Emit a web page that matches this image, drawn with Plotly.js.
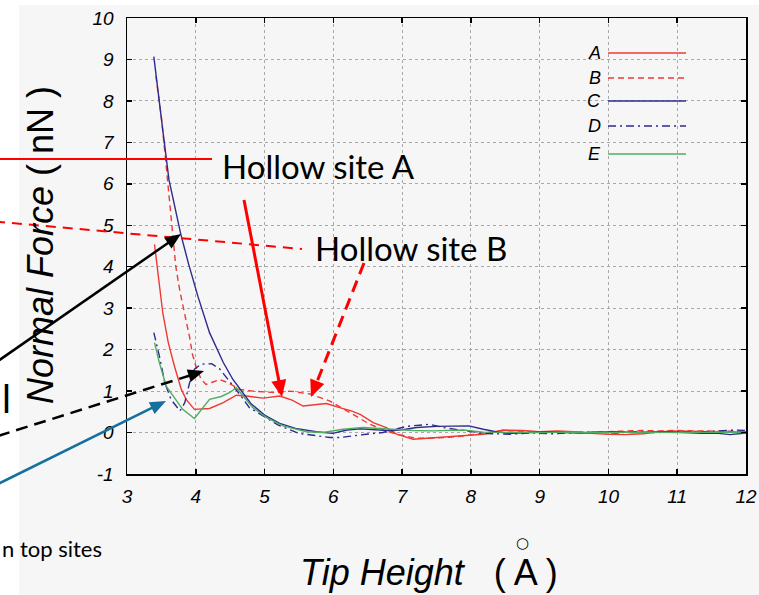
<!DOCTYPE html>
<html><head><meta charset="utf-8">
<script src="https://cdn.plot.ly/plotly-3.0.1.min.js"></script>
<style>html,body{margin:0;padding:0;background:#fff}#chart{width:759px;height:595px}</style>
</head><body><div id="chart"></div>
<script>
// ---- data ----
const seriesNames = ['A','B','C','D','E'];
const xA = [3.4,3.47,3.52,3.6,3.69,3.79,3.86,3.98,4.2,4.4,4.59,4.74,4.98,5.22,5.4,5.56,5.75,5.9,6.09,6.25,6.39,6.58,6.77,6.92,7.16,7.5,7.89,8.18,8.47,8.75,9.0,9.25,9.5,9.75,10.0,10.25,10.5,10.75,11.0,11.25,11.5,11.75,12.0];
const yA = [4.54,3.6,2.89,2.17,1.6,1.04,0.8,0.56,0.58,0.72,0.9,0.88,0.83,0.88,0.78,0.64,0.67,0.7,0.6,0.53,0.44,0.24,0.12,-0.04,-0.16,-0.12,-0.08,-0.04,0.06,0.05,0.02,0.04,0.02,-0.02,-0.04,-0.05,-0.03,0.02,0.04,0.03,0.03,0.01,0.02];
const xB = [3.42,3.5,3.56,3.6,3.66,3.71,3.77,3.86,3.91,3.95,4.01,4.08,4.15,4.25,4.35,4.47,4.64,4.83,5.0,5.17,5.37,5.66,5.95,6.24,6.53,6.75,6.92,7.21,7.5,7.79,8.08,8.47,8.75,9.0,9.25,9.5,9.75,10.0,10.25,10.5,10.75,11.0,11.25,11.5,11.75,12.0];
const yB = [8.6,7.6,6.6,5.9,4.7,4.0,3.4,2.7,2.3,1.9,1.55,1.28,1.16,1.22,1.28,1.2,1.04,1.0,0.98,0.96,1.0,0.93,0.76,0.48,0.2,0.05,-0.04,-0.14,-0.13,-0.1,-0.04,0.05,0.03,0.01,0.02,0.0,0.01,0.02,0.03,0.05,0.04,0.05,0.04,0.03,0.03,0.03];
const xC = [3.39,3.45,3.52,3.61,3.7,3.78,3.89,4.03,4.2,4.4,4.54,4.66,4.8,5.0,5.22,5.45,5.75,5.99,6.2,6.39,6.6,6.85,7.05,7.21,7.5,7.75,7.97,8.18,8.4,8.6,8.85,9.1,9.35,9.6,9.85,10.1,10.35,10.6,10.85,11.1,11.35,11.6,11.77,12.0];
const yC = [9.07,8.2,7.3,6.1,5.45,4.8,4.1,3.29,2.41,1.69,1.28,1.0,0.7,0.42,0.22,0.1,0.02,-0.02,0.06,0.09,0.06,0.04,0.08,0.12,0.15,0.16,0.16,0.08,0.01,-0.02,0.0,0.02,0.0,-0.01,0.01,0.02,0.0,0.01,0.02,0.0,-0.02,-0.02,-0.05,-0.01];
const xD = [3.39,3.47,3.55,3.64,3.77,3.84,3.91,3.98,4.08,4.23,4.35,4.49,4.64,4.78,4.98,5.2,5.5,5.75,5.95,6.09,6.34,6.48,6.72,6.85,7.07,7.4,7.6,7.94,8.18,8.57,8.9,9.2,9.5,9.8,10.1,10.4,10.7,11.0,11.3,11.6,11.85,12.0];
const yD = [2.41,1.85,1.2,0.8,0.52,0.72,1.2,1.53,1.65,1.66,1.53,1.24,0.92,0.6,0.4,0.18,-0.02,-0.08,-0.12,-0.12,-0.08,-0.04,0.0,0.05,0.15,0.2,0.12,0.04,-0.02,-0.04,-0.01,-0.03,0.0,0.01,-0.01,0.02,0.0,0.02,0.01,0.04,0.06,0.05];
const xE = [3.4,3.47,3.57,3.67,3.81,3.98,4.2,4.37,4.49,4.59,4.71,4.83,5.03,5.27,5.41,5.61,5.85,6.14,6.43,6.63,6.82,7.16,7.45,7.89,8.18,8.5,9.0,9.5,10.0,10.5,11.0,11.5,12.0];
const yE = [2.17,1.69,1.12,0.88,0.56,0.34,0.8,0.87,0.96,1.08,0.84,0.6,0.36,0.16,0.1,0.02,0.0,0.08,0.12,0.1,0.08,0.05,0.04,0.06,0.01,0.0,0.0,0.01,0.0,0.01,0.0,0.01,0.0];
const xTicks = [3,4,5,6,7,8,9,10,11,12];
const yTicks = [-1,0,1,2,3,4,5,6,7,8,9,10];

// ---- styles ----
const RED='#ee3a33', NAVY='#2d2b8e', GREEN='#4fad62';
const styles = {
  A:{color:RED,dash:'solid'},
  B:{color:RED,dash:'6px,4px'},
  C:{color:NAVY,dash:'solid'},
  D:{color:NAVY,dash:'8px,4px,2px,4px'},
  E:{color:GREEN,dash:'solid'}
};
const xs={A:xA,B:xB,C:xC,D:xD,E:xE}, ys={A:yA,B:yB,C:yC,D:yD,E:yE};
const traces = seriesNames.map(n=>({x:xs[n],y:ys[n],type:'scatter',mode:'lines',name:n,
  line:{color:styles[n].color,dash:styles[n].dash,width:1.4},showlegend:false,hoverinfo:'skip'}));

// ---- geometry helpers (pixel -> paper) ----
const W=759,H=595,L=127,R=13,T=18,B=121;
const pw=W-L-R, ph=H-T-B;
const px=x=>(x-L)/pw, py=y=>(H-B-y)/ph;

const shapes=[], annotations=[];
// slide background
shapes.push({type:'rect',xref:'paper',yref:'paper',x0:px(19),x1:px(770),y0:py(5),y1:py(600),fillcolor:'#f6f6f6',line:{width:0},layer:'below'});

function arrow(sx,sy,tx,ty,color,width,dash,hl,hw){
  const dx=tx-sx, dy=ty-sy, len=Math.hypot(dx,dy), ux=dx/len, uy=dy/len;
  const bx=tx-ux*hl, by=ty-uy*hl, nx=-uy, ny=ux;
  shapes.push({type:'line',xref:'paper',yref:'paper',x0:px(sx),y0:py(sy),x1:px(bx+ux*2),y1:py(by+uy*2),line:{color:color,width:width,dash:dash},layer:'above'});
  const p2=[bx+nx*hw/2,by+ny*hw/2], p3=[bx-nx*hw/2,by-ny*hw/2];
  shapes.push({type:'path',xref:'paper',yref:'paper',
    path:`M ${px(tx)} ${py(ty)} L ${px(p2[0])} ${py(p2[1])} L ${px(p3[0])} ${py(p3[1])} Z`,
    fillcolor:color,line:{width:0},layer:'above'});
}
// leader lines
shapes.push({type:'line',xref:'paper',yref:'paper',x0:px(-5),y0:py(159),x1:px(212),y1:py(159),line:{color:'#ff0000',width:2},layer:'above'});
shapes.push({type:'line',xref:'paper',yref:'paper',x0:px(-5),y0:py(221.5),x1:px(302),y1:py(249),line:{color:'#ff0000',width:2,dash:'10px,7px'},layer:'above'});
// arrows
arrow(244,200,282,397,'#ff0000',3,'solid',17,15);
arrow(364,263,311,397,'#ff0000',3,'12px,7px',17,15);
arrow(-2,361,181,234,'#000000',2.5,'solid',16,13);
arrow(-2,436,204,371,'#000000',2.5,'12px,7px',16,13);
arrow(-2,484,166,401,'#1570a0',2.5,'solid',16,13);

// custom legend
const legRows = {A:53,B:78,C:101,D:126,E:154};
seriesNames.forEach(n=>{
  shapes.push({type:'line',xref:'paper',yref:'paper',x0:px(608),x1:px(686),y0:py(legRows[n]),y1:py(legRows[n]),
    line:{color:styles[n].color,dash:styles[n].dash,width:1.6},layer:'above'});
  annotations.push({xref:'paper',yref:'paper',x:px(603),y:py(legRows[n]),xanchor:'right',yanchor:'middle',showarrow:false,
    text:'<i>'+n+'</i>',font:{family:'Liberation Sans, Arial, sans-serif',size:18,color:'#000'}});
});

const ann=(x,y,text,font,extra)=>annotations.push(Object.assign({xref:'paper',yref:'paper',x:px(x),y:py(y),text:text,showarrow:false,font:font,xanchor:'center',yanchor:'middle'},extra||{}));
const slideFont={family:'Lato, Open Sans, sans-serif',size:33,color:'#000'};
ann(220,166,'Hollow site A',slideFont,{xanchor:'left'});
ann(313,248,'Hollow site B',slideFont,{xanchor:'left'});
ann(0,548,'n top sites',{family:'Lato, Open Sans, sans-serif',size:22,color:'#000'},{xanchor:'left'});
ann(0,398,'l',{family:'Lato, Open Sans, sans-serif',size:38,color:'#000'},{xanchor:'left'});
// axis titles
ann(40,245,'<i>Normal Force</i> ( nN )',{family:'Liberation Sans, Arial, sans-serif',size:36,color:'#000'},{textangle:-90});
ann(429,572,'<i>Tip Height</i>\u00a0\u00a0 ( A )',{family:'Liberation Sans, Arial, sans-serif',size:36,color:'#000'});
ann(522,543,'\u25CB',{family:'DejaVu Sans, sans-serif',size:15,color:'#000'});

const tickFont={family:'Liberation Sans, Arial, sans-serif',size:19,color:'#000'};
const axisCommon={showgrid:true,gridcolor:'#a8a8a8',griddash:'dot',gridwidth:1,showline:true,linecolor:'#000',linewidth:1.5,
  mirror:'ticks',ticks:'inside',ticklen:5,tickwidth:1.5,tickcolor:'#000',zeroline:false,tickfont:tickFont,fixedrange:true};
const layout={
  width:W,height:H,margin:{l:L,r:R,t:T,b:B,pad:0},
  paper_bgcolor:'#ffffff',plot_bgcolor:'#f6f6f6',
  xaxis:Object.assign({},axisCommon,{range:[3,12],tickvals:xTicks,ticktext:xTicks.map(v=>'<i>'+v+'</i>'),ticklabelstandoff:5}),
  yaxis:Object.assign({},axisCommon,{range:[-1,10],tickvals:yTicks,ticktext:yTicks.map(v=>'<i>'+v+'</i>'),ticklabelstandoff:8}),
  shapes:shapes,annotations:annotations,showlegend:false,hovermode:false
};
Plotly.newPlot('chart',traces,layout,{displayModeBar:false,staticPlot:true});
</script></body></html>
